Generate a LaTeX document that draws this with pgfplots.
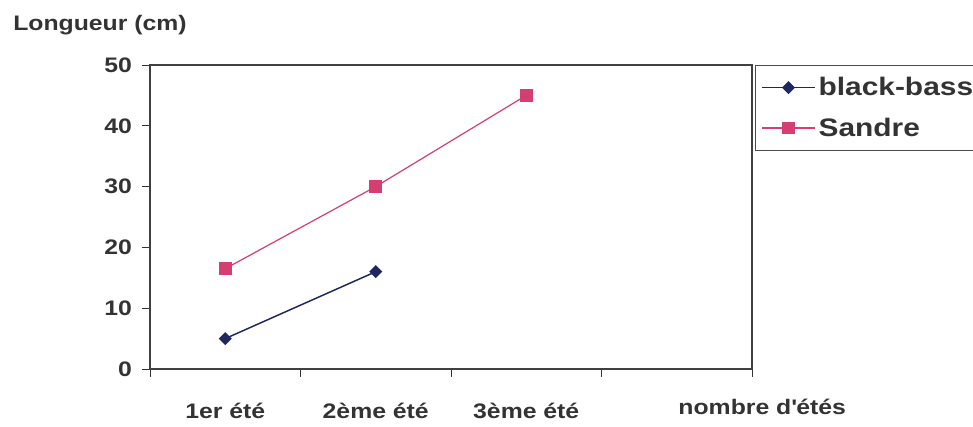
\documentclass[border=0pt]{standalone}
\usepackage{pgfplots}
\pgfplotsset{compat=1.18}
\usepackage{fontspec}
\setmainfont{Liberation Sans}[FakeStretch=1.18]
\definecolor{bbass}{RGB}{30,40,95}
\definecolor{sandre}{RGB}{212,62,112}
\pgfplotstableread{
x y
0.5 5
1.5 16
}\bbdata
\pgfplotstableread{
x y
0.5 16.5
1.5 30
2.5 45
}\sandata
\begin{document}
\begin{tikzpicture}
\useasboundingbox (-112.5pt,-43.5pt) rectangle (617.25pt,276.75pt);
\clip (-112.5pt,-43.5pt) rectangle (617.25pt,276.75pt);
\node[anchor=base west, inner sep=0pt, font=\fontsize{15.75}{18}\selectfont\bfseries, text=black!80] at (-102.75pt,253.5pt) {Longueur (cm)};
\begin{axis}[
  width=451.5pt, height=228pt, scale only axis,
  at={(0,0)}, anchor=south west,
  xmin=0, xmax=4, ymin=0, ymax=50,
  ytick={0,10,...,50},
  xtick={0.5,1.5,2.5},
  xticklabels={1er été, 2ème été, 3ème été},
  minor xtick={0,1,2,3,4},
  major x tick style={draw=none},
  xtick pos=bottom, ytick pos=left,
  tick align=outside,
  major tick length=6pt, minor tick length=6pt,
  tick style={black!80, line width=0.7pt},
  axis line style={black!75, line width=0.8pt},
  every tick label/.append style={font=\fontsize{15.75}{18}\selectfont\bfseries, text=black!80},
  /pgf/number format/assume math mode=true,
  xticklabel style={anchor=base, yshift=-31pt},
  yticklabel style={xshift=-4pt},
  xlabel={nombre d\textquotesingle étés},
  xlabel style={at={(rel axis cs:1.0169,0)}, anchor=base, yshift=-34.5pt, font=\fontsize{15.75}{18}\selectfont\bfseries, text=black!80},
  legend style={at={(rel axis cs:1,1)}, anchor=north west, xshift=2.5pt,
    draw=black!70, line width=0.7pt, font=\fontsize{19}{22}\selectfont\bfseries, text=black!80,
    row sep=11pt, inner ysep=7pt, inner xsep=4pt},
  legend cell align=left,
  legend image code/.code={\draw[mark repeat=2,mark phase=2,#1] plot coordinates {(0pt,0pt) (20pt,0pt) (40pt,0pt)};},
]
\addplot[color=bbass, line width=1.1pt, mark=square*, mark size=2.9pt, mark options={rotate=45, fill=bbass, draw=bbass}] table[x=x,y=y] {\bbdata};
\addlegendentry{black-bass\hspace*{15pt}}
\addplot[color=sandre, line width=0.9pt, mark=square*, mark size=4.3pt, mark options={fill=sandre, draw=sandre}] table[x=x,y=y] {\sandata};
\addlegendentry{Sandre}
\end{axis}
\end{tikzpicture}
\end{document}
